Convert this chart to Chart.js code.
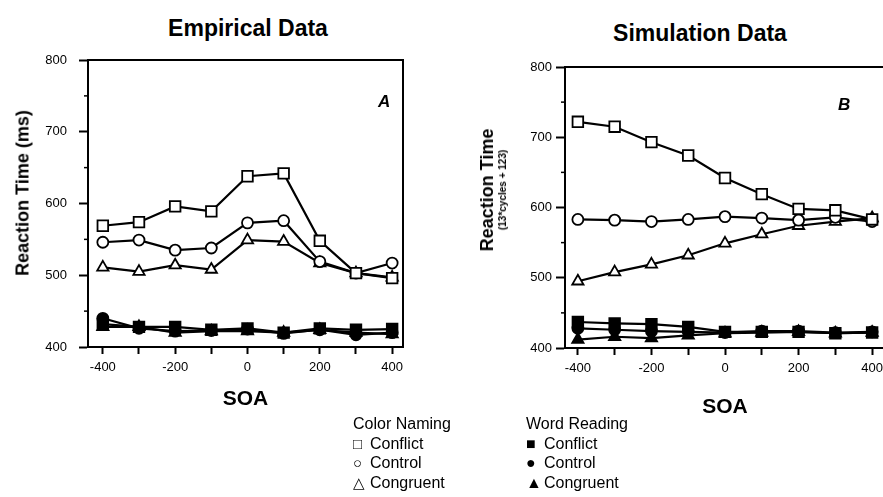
<!DOCTYPE html>
<html>
<head>
<meta charset="utf-8">
<script src="https://cdn.jsdelivr.net/npm/chart.js@4.4.1/dist/chart.umd.min.js"></script>
<style>
  html, body { margin: 0; padding: 0; background: #fff; overflow: hidden; width: 883px; height: 497px; }
  body { position: relative; font-family: "Liberation Sans", Arial, sans-serif; color: #000; }
  .box { position: absolute; }
  .title { position: absolute; font-weight: bold; font-size: 23px; transform: translate(-50%, -50%); white-space: nowrap; }
  .ytitle { position: absolute; transform: translate(-50%, -50%) rotate(-90deg); white-space: nowrap; font-weight: bold; text-align: center; }
  .panel { position: absolute; font-weight: bold; font-style: italic; font-size: 17px; }
  .legend { position: absolute; font-size: 16px; line-height: 19.5px; white-space: nowrap; }
  .legend span { display: inline-block; width: 17px; font-size: 15px; }
  .legend span.f { width: 18px; font-size: 16px; line-height: 10px; }
</style>
</head>
<body>
<div class="title" style="left:248px; top:28px;">Empirical Data</div>
<div class="title" style="left:700px; top:33px;">Simulation Data</div>

<div class="box" style="left:0; top:0; width:440px; height:420px;"><canvas id="empirical"></canvas></div>
<div class="box" style="left:440px; top:0; width:460px; height:420px;"><canvas id="simulation"></canvas></div>

<div class="ytitle" style="left:23px; top:193px; font-size:18px;">Reaction Time (ms)</div>
<div class="ytitle" style="left:493px; top:190px;">
  <div style="font-size:18px; line-height:19px;">Reaction Time</div>
  <div style="font-size:10px; line-height:11px;">(13*cycles + 123)</div>
</div>
<div class="panel" style="left:378px; top:92px;">A</div>
<div class="panel" style="left:838px; top:95px;">B</div>

<div class="legend" style="left:353px; top:414px;">
  Color Naming<br><span>&#9633;</span>Conflict<br><span>&#9675;</span>Control<br><span>&#9651;</span>Congruent
</div>
<div class="legend" style="left:526px; top:414px;">
  Word Reading<br><span class="f">&#9632;</span>Conflict<br><span class="f">&#9679;</span>Control<br><span class="f">&#9650;</span>Congruent
</div>

<script>
// SOA (ms)
const soa = [-400, -300, -200, -100, 0, 100, 200, 300, 400];

// Empirical data (reaction time, ms)
const empColorConflict  = [569, 574, 596, 589, 638, 642, 548, 503, 496];
const empColorControl   = [546, 549, 535, 538, 573, 576, 519, 503, 517];
const empColorCongruent = [511, 505, 514, 508, 549, 547, 517, 503, 497];
const empWordConflict   = [432, 428, 428, 424, 426, 420, 426, 424, 425];
const empWordControl    = [440, 426, 422, 423, 425, 419, 424, 417, 420];
const empWordCongruent  = [428, 428, 420, 422, 422, 420, 424, 420, 418];

// Simulation data (13*cycles + 123)
const simColorConflict  = [722, 715, 693, 674, 642, 619, 598, 596, 583];
const simColorControl   = [583, 582, 580, 583, 587, 585, 582, 586, 580];
const simColorCongruent = [495, 508, 519, 532, 549, 562, 574, 580, 585];
const simWordConflict   = [437, 435, 434, 430, 423, 423, 423, 421, 422];
const simWordControl    = [428, 426, 424, 423, 422, 424, 424, 422, 423];
const simWordCongruent  = [412, 416, 414, 418, 421, 422, 423, 421, 422];

const xTicks = [-400, -200, 0, 200, 400];
const yTicks = [400, 500, 600, 700, 800];

Chart.defaults.font.family = '"Liberation Sans", Arial, sans-serif';
Chart.defaults.color = '#000';

function serie(values, shape, filled) {
    return {
        data: values.map((v, i) => ({ x: soa[i], y: v })),
        borderColor: '#000',
        borderWidth: 2.2,
        backgroundColor: filled ? '#000' : '#fff',
        pointStyle: shape,
        pointRadius: shape === 'rect' ? 7.5 : (shape === 'triangle' ? 6.5 : 5.5),
        pointBorderWidth: 1.8,
        pointBackgroundColor: filled ? '#000' : '#fff',
        pointBorderColor: '#000',
        tension: 0
    };
}

// box round the plot area + short minor ticks on y
const framePlugin = {
    id: 'frame',
    afterDraw(chart) {
        const { ctx, chartArea: a, scales } = chart;
        ctx.save();
        ctx.strokeStyle = '#000';
        ctx.lineWidth = 2;
        ctx.strokeRect(a.left, a.top, a.right - a.left, a.bottom - a.top);
        ctx.lineWidth = 1.5;
        [450, 550, 650, 750].forEach(v => {
            const y = scales.y.getPixelForValue(v);
            ctx.beginPath();
            ctx.moveTo(a.left - 4, y);
            ctx.lineTo(a.left + 1, y);
            ctx.stroke();
        });
        ctx.restore();
    }
};

function makeChart(id, sets, opt) {
    new Chart(document.getElementById(id), {
        type: 'line',
        data: {
            datasets: [
                serie(sets[0], 'rect', false),
                serie(sets[1], 'circle', false),
                serie(sets[2], 'triangle', false),
                serie(sets[3], 'rect', true),
                serie(sets[4], 'circle', true),
                serie(sets[5], 'triangle', true)
            ]
        },
        options: {
            responsive: true,
            maintainAspectRatio: false,
            animation: false,
            layout: { padding: { top: opt.top, right: opt.right, left: 0, bottom: 0 } },
            plugins: { legend: { display: false }, tooltip: { enabled: false } },
            scales: {
                x: {
                    type: 'linear',
                    min: opt.xmin,
                    max: opt.xmax,
                    afterFit: s => { s.height = opt.xh; },
                    afterBuildTicks: s => { s.ticks = soa.map(v => ({ value: v })); },
                    ticks: {
                        font: { size: 13 },
                        padding: 6,
                        maxRotation: 0,
                        autoSkip: false,
                        callback: v => xTicks.includes(v) ? v : ''
                    },
                    grid: { drawOnChartArea: false, tickLength: 7, tickWidth: 2, tickColor: '#000' },
                    border: { color: '#000', width: 2 },
                    title: { display: true, text: 'SOA', font: { size: 21, weight: 'bold' }, padding: { top: 0, bottom: opt.soaPad } }
                },
                y: {
                    min: 400,
                    max: 800,
                    afterFit: s => { s.width = opt.yw; },
                    afterBuildTicks: s => { s.ticks = yTicks.map(v => ({ value: v })); },
                    ticks: { font: { size: 13 }, padding: opt.ypad },
                    grid: { drawOnChartArea: false, tickLength: 9, tickWidth: 2, tickColor: '#000' },
                    border: { color: '#000', width: 2 }
                }
            }
        },
        plugins: [framePlugin]
    });
}

makeChart('empirical',
    [empColorConflict, empColorControl, empColorCongruent, empWordConflict, empWordControl, empWordCongruent],
    { top: 60, right: 37, yw: 88, xh: 73, xmin: -441, xmax: 430, ypad: 12, soaPad: 8 });

makeChart('simulation',
    [simColorConflict, simColorControl, simColorCongruent, simWordConflict, simWordControl, simWordCongruent],
    { top: 67, right: 15, yw: 125, xh: 72, xmin: -435, xmax: 435, ypad: 4, soaPad: 0 });
</script>
</body>
</html>
